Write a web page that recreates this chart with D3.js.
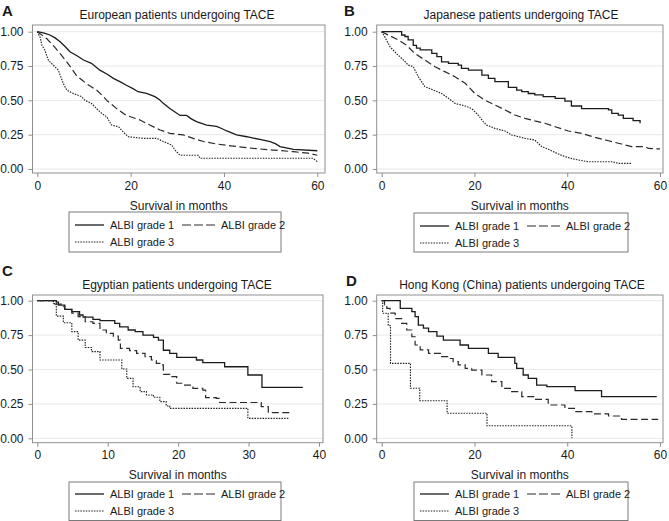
<!DOCTYPE html>
<html><head><meta charset="utf-8">
<script src="https://cdn.jsdelivr.net/npm/d3@7"></script>
<style>
body{margin:0;background:#fff}
svg{display:block}
text{font-family:"Liberation Sans",Arial,Helvetica,sans-serif;fill:#1a1a1a}
</style>
</head><body>
<svg id="chart" width="669" height="521"></svg>
<script>
// ---- data: Kaplan-Meier survival estimates [months, survival] ----
const europeG1 = [[0,1],[1.5,0.99],[2.7,0.976],[3.8,0.955],[4.9,0.927],[6,0.89],[7,0.854],[8.5,0.825],[9.9,0.794],[11.6,0.77],[13.4,0.72],[15,0.69],[16.3,0.66],[17.8,0.635],[19.1,0.61],[20.5,0.585],[21.6,0.563],[23.4,0.55],[25.2,0.527],[26.2,0.505],[27,0.478],[28.4,0.44],[29.5,0.415],[30.6,0.39],[32,0.39],[33,0.365],[34.1,0.345],[36.3,0.32],[38.4,0.31],[39.5,0.295],[40.6,0.277],[42.7,0.248],[44.9,0.235],[46.3,0.225],[47.7,0.216],[49.9,0.2],[51,0.185],[52,0.163],[54.9,0.143],[60,0.133]];
const europeG2 = [[0,1],[1,0.975],[2,0.95],[3.4,0.9],[4.9,0.84],[6.3,0.78],[7.4,0.73],[8.4,0.68],[9.5,0.65],[10.6,0.62],[12.7,0.575],[13.8,0.54],[14.9,0.5],[17,0.44],[19.1,0.39],[22,0.357],[24.1,0.32],[26.3,0.284],[28.4,0.26],[31.3,0.248],[33.4,0.223],[35.6,0.2],[38.4,0.182],[42,0.167],[46.3,0.15],[50.6,0.138],[54.9,0.126],[58,0.115],[60,0.1]];
const europeG3 = [[0,1],[0.6,0.96],[1,0.9],[1.6,0.867],[2.4,0.79],[3.4,0.757],[4.5,0.72],[5.6,0.62],[6.3,0.575],[7.7,0.55],[9.5,0.527],[10.2,0.5],[11.6,0.478],[12.7,0.44],[13.8,0.405],[14.9,0.38],[15.9,0.32],[17.4,0.308],[18.4,0.27],[19.5,0.235],[22.7,0.223],[25.6,0.223],[27,0.2],[28.8,0.175],[29.5,0.138],[30.6,0.1],[34.5,0.1],[34.9,0.078],[59.1,0.078],[60,0.053]];

const japanG1 = [[0,1],[3.6,1],[4.3,0.976],[5,0.965],[5.7,0.94],[6.8,0.9],[7.5,0.88],[8.3,0.867],[10.8,0.842],[11.9,0.818],[12.9,0.78],[14.4,0.77],[16.5,0.757],[17.2,0.733],[18.7,0.72],[21.6,0.684],[23,0.66],[24.4,0.636],[27.3,0.595],[29.1,0.575],[30.2,0.563],[31.6,0.55],[33,0.54],[34.8,0.527],[37.4,0.515],[39.5,0.495],[40.9,0.459],[43.1,0.44],[48.9,0.43],[49.6,0.405],[51,0.393],[52.1,0.369],[54.2,0.352],[55.7,0.333]];
const japanG2 = [[0,1],[1.4,0.976],[3.6,0.94],[5.4,0.9],[7.2,0.84],[9.3,0.794],[11.5,0.745],[13.6,0.709],[15.8,0.672],[18,0.624],[20.1,0.55],[22.3,0.5],[24.4,0.466],[26.6,0.43],[28.7,0.393],[30.9,0.369],[33,0.35],[35.2,0.333],[37.4,0.308],[40.2,0.277],[43.1,0.26],[46,0.23],[48.9,0.206],[51.7,0.182],[53.9,0.163],[56.8,0.163],[57.5,0.15],[60,0.146]];
const japanG3 = [[0,1],[0.7,0.96],[1.8,0.89],[3.2,0.84],[4.7,0.794],[5.7,0.757],[6.8,0.745],[7.9,0.672],[9.3,0.6],[10.8,0.58],[12.9,0.55],[14.4,0.515],[15.8,0.478],[18,0.459],[19.4,0.44],[20.8,0.393],[21.9,0.345],[22.6,0.32],[24.4,0.296],[26.6,0.277],[28,0.248],[30.9,0.223],[33,0.211],[34.5,0.163],[36.3,0.138],[38.1,0.109],[39.5,0.09],[41.7,0.07],[44.5,0.053],[49.6,0.053],[51,0.041],[53.9,0.041]];

const egyptG1 = [[0,1],[2.7,0.99],[3,0.968],[3.9,0.937],[4.9,0.92],[6,0.896],[6.5,0.88],[7.9,0.864],[8.9,0.855],[11,0.835],[11.7,0.81],[12.9,0.787],[13.9,0.775],[15,0.75],[16.5,0.733],[17.2,0.714],[17.9,0.64],[18.8,0.617],[19.8,0.588],[22.6,0.569],[23.5,0.55],[26.6,0.52],[29.9,0.46],[31.9,0.37],[37.7,0.37]];
const egyptG2 = [[0,1],[2.5,0.975],[3.5,0.956],[3.9,0.937],[4.9,0.91],[5.8,0.884],[6.8,0.847],[7.9,0.835],[8.9,0.787],[9.8,0.763],[10.8,0.743],[11.5,0.714],[11.8,0.654],[13.1,0.637],[14.1,0.617],[15.3,0.593],[16.2,0.569],[16.9,0.545],[17.4,0.533],[17.9,0.465],[18.8,0.448],[19.8,0.4],[20.7,0.387],[22.1,0.363],[23.5,0.35],[23.9,0.295],[25.4,0.29],[25.9,0.26],[31.8,0.23],[32.8,0.186],[35.8,0.186]];
const egyptG3 = [[0,1],[2.3,0.98],[2.7,0.888],[3.7,0.84],[4.9,0.775],[5.8,0.714],[6.8,0.66],[7.7,0.63],[8.9,0.569],[12,0.504],[12.7,0.436],[13.6,0.375],[14.6,0.339],[15.5,0.315],[16.5,0.298],[17.4,0.266],[18.3,0.235],[18.8,0.218],[29.9,0.145],[35.8,0.145]];

const hongkongG1 = [[0,1],[4,0.944],[6.5,0.92],[7.2,0.884],[7.9,0.823],[9,0.8],[10.1,0.775],[11.9,0.743],[13.3,0.714],[16.9,0.678],[18.7,0.654],[23,0.617],[25.1,0.588],[28.7,0.545],[29.1,0.508],[30.5,0.46],[31.6,0.436],[33.4,0.387],[35.6,0.375],[41.7,0.346],[47.4,0.303],[59.3,0.303]];
const hongkongG2 = [[0,1],[0.6,0.97],[1.1,0.944],[1.8,0.91],[2.9,0.87],[4.3,0.835],[5.4,0.787],[6.5,0.738],[7.2,0.678],[8.3,0.642],[10.1,0.617],[12.9,0.593],[14.4,0.58],[15.4,0.557],[16.5,0.533],[18,0.508],[19.4,0.496],[21.6,0.46],[23.7,0.412],[25.9,0.363],[28,0.339],[30.2,0.303],[33,0.283],[35.9,0.242],[39.5,0.218],[41.7,0.194],[45.3,0.177],[48.9,0.162],[51.7,0.138],[59.6,0.138]];
const hongkongG3 = [[0,1],[0.2,0.909],[1.4,0.818],[1.9,0.545],[6.2,0.364],[8.2,0.273],[14.1,0.182],[22.7,0.091],[41,0]];

const yTicks = [0, 0.25, 0.5, 0.75, 1];
const xTicks60 = [0, 20, 40, 60];
const xTicks40 = [0, 10, 20, 30, 40];
const seriesNames = ["ALBI grade 1", "ALBI grade 2", "ALBI grade 3"];
const xTitle = "Survival in months";

// ---- layout ----
const styles = [
  {dash: null, width: 1.3, color: "#1c1c1c", legDash: null},
  {dash: "7,3.5", width: 1.2, color: "#2a2a2a", legDash: "9,3"},
  {dash: "1.5,1.2", width: 1.15, color: "#222", legDash: "1.5,1.2"}
];

const panels = [
  {letter:"A", lx:2, ly:16, title:"European patients undergoing TACE", tx:177, ty:19,
   frame:{l:32.5,r:325,t:25,b:173}, xr:[37.3,317.3], yr:[169,31.7], xmax:60, xt:xTicks60,
   series:[europeG1,europeG2,europeG3], step:[false,false,false],
   xtitleY:210, leg:{l:69,r:281,t:212,b:252,row1:225,row2:242,c1:75,c2:182}},
  {letter:"B", lx:344, ly:16, title:"Japanese patients undergoing TACE", tx:521, ty:19,
   frame:{l:376.7,r:663,t:25,b:173}, xr:[381.7,660], yr:[169,31.7], xmax:60, xt:xTicks60,
   series:[japanG1,japanG2,japanG3], step:[true,false,false],
   xtitleY:210, leg:{l:414,r:628,t:213,b:252,row1:226,row2:243,c1:420,c2:527}},
  {letter:"C", lx:2, ly:276, title:"Egyptian patients undergoing TACE", tx:177, ty:289,
   frame:{l:32.5,r:323,t:295,b:442.7}, xr:[37.3,319], yr:[438.3,300.7], xmax:40, xt:xTicks40,
   series:[egyptG1,egyptG2,egyptG3], step:[true,true,true],
   xtitleY:479, leg:{l:69,r:281,t:482,b:520.5,row1:494,row2:511,c1:75,c2:182}},
  {letter:"D", lx:346, ly:286, title:"Hong Kong (China) patients undergoing TACE", tx:522, ty:289,
   frame:{l:376.7,r:663,t:295,b:442.7}, xr:[381.7,660], yr:[438.3,300.7], xmax:60, xt:xTicks60,
   series:[hongkongG1,hongkongG2,hongkongG3], step:[true,true,true],
   xtitleY:479, leg:{l:414,r:628,t:482,b:520.5,row1:494,row2:511,c1:420,c2:527}}
];

const svg = d3.select("#chart");
const frameColor = "#8f8f8f";

panels.forEach(p => {
  const g = svg.append("g");
  const x = d3.scaleLinear().domain([0, p.xmax]).range(p.xr);
  const y = d3.scaleLinear().domain([0, 1]).range(p.yr);
  const f = p.frame;

  // gridlines
  g.append("g").selectAll("line").data(yTicks).join("line")
    .attr("x1", f.l).attr("x2", f.r)
    .attr("y1", d => y(d)).attr("y2", d => y(d))
    .attr("stroke", "#e9e9e9").attr("stroke-width", 1);

  // frame
  g.append("rect").attr("x", f.l).attr("y", f.t)
    .attr("width", f.r - f.l).attr("height", f.b - f.t)
    .attr("fill", "none").attr("stroke", frameColor).attr("stroke-width", 1);

  // y axis
  const yAxis = d3.axisLeft(y).tickValues(yTicks).tickFormat(d3.format(".2f")).tickSize(4).tickPadding(5);
  const ya = g.append("g").attr("transform", `translate(${f.l},0)`).call(yAxis);
  ya.select(".domain").remove();
  ya.selectAll(".tick line").attr("stroke", frameColor);
  ya.selectAll(".tick text").style("font-size", "12px").attr("fill", "#1a1a1a")
    .style("font-family", '"Liberation Sans",Arial,sans-serif');

  // x axis
  const xAxis = d3.axisBottom(x).tickValues(p.xt).tickFormat(d3.format("d")).tickSize(4).tickPadding(4);
  const xa = g.append("g").attr("transform", `translate(0,${f.b})`).call(xAxis);
  xa.select(".domain").remove();
  xa.selectAll(".tick line").attr("stroke", frameColor);
  xa.selectAll(".tick text").style("font-size", "12px").attr("fill", "#1a1a1a")
    .style("font-family", '"Liberation Sans",Arial,sans-serif');

  // curves
  p.series.forEach((s, i) => {
    const line = d3.line().x(d => x(d[0])).y(d => y(d[1]))
      .curve(p.step[i] ? d3.curveStepAfter : d3.curveLinear);
    g.append("path").datum(s).attr("d", line)
      .attr("fill", "none").attr("stroke", styles[i].color)
      .attr("stroke-width", styles[i].width)
      .attr("stroke-dasharray", styles[i].dash)
      .attr("stroke-linejoin", "miter");
  });

  // titles
  g.append("text").attr("x", p.lx).attr("y", p.ly).text(p.letter)
    .style("font-size", "15px").style("font-weight", "bold");
  g.append("text").attr("x", p.tx).attr("y", p.ty).attr("text-anchor", "middle")
    .text(p.title).style("font-size", "12px");
  g.append("text").attr("x", (f.l + f.r) / 2).attr("y", p.xtitleY).attr("text-anchor", "middle")
    .text(xTitle).style("font-size", "12px");

  // legend
  const L = p.leg;
  g.append("rect").attr("x", L.l).attr("y", L.t).attr("width", L.r - L.l).attr("height", L.b - L.t)
    .attr("fill", "#fff").attr("stroke", "#7a7a7a").attr("stroke-width", 1);
  const items = [
    {x: L.c1, y: L.row1, len: 29}, {x: L.c2, y: L.row1, len: 33}, {x: L.c1, y: L.row2, len: 29}
  ];
  items.forEach((it, i) => {
    g.append("line").attr("x1", it.x).attr("x2", it.x + it.len).attr("y1", it.y).attr("y2", it.y)
      .attr("stroke", styles[i].color).attr("stroke-width", styles[i].width)
      .attr("stroke-dasharray", styles[i].legDash);
    g.append("text").attr("x", it.x + it.len + 6).attr("y", it.y + 4).text(seriesNames[i])
      .style("font-size", "11px");
  });
});
</script>
</body></html>
